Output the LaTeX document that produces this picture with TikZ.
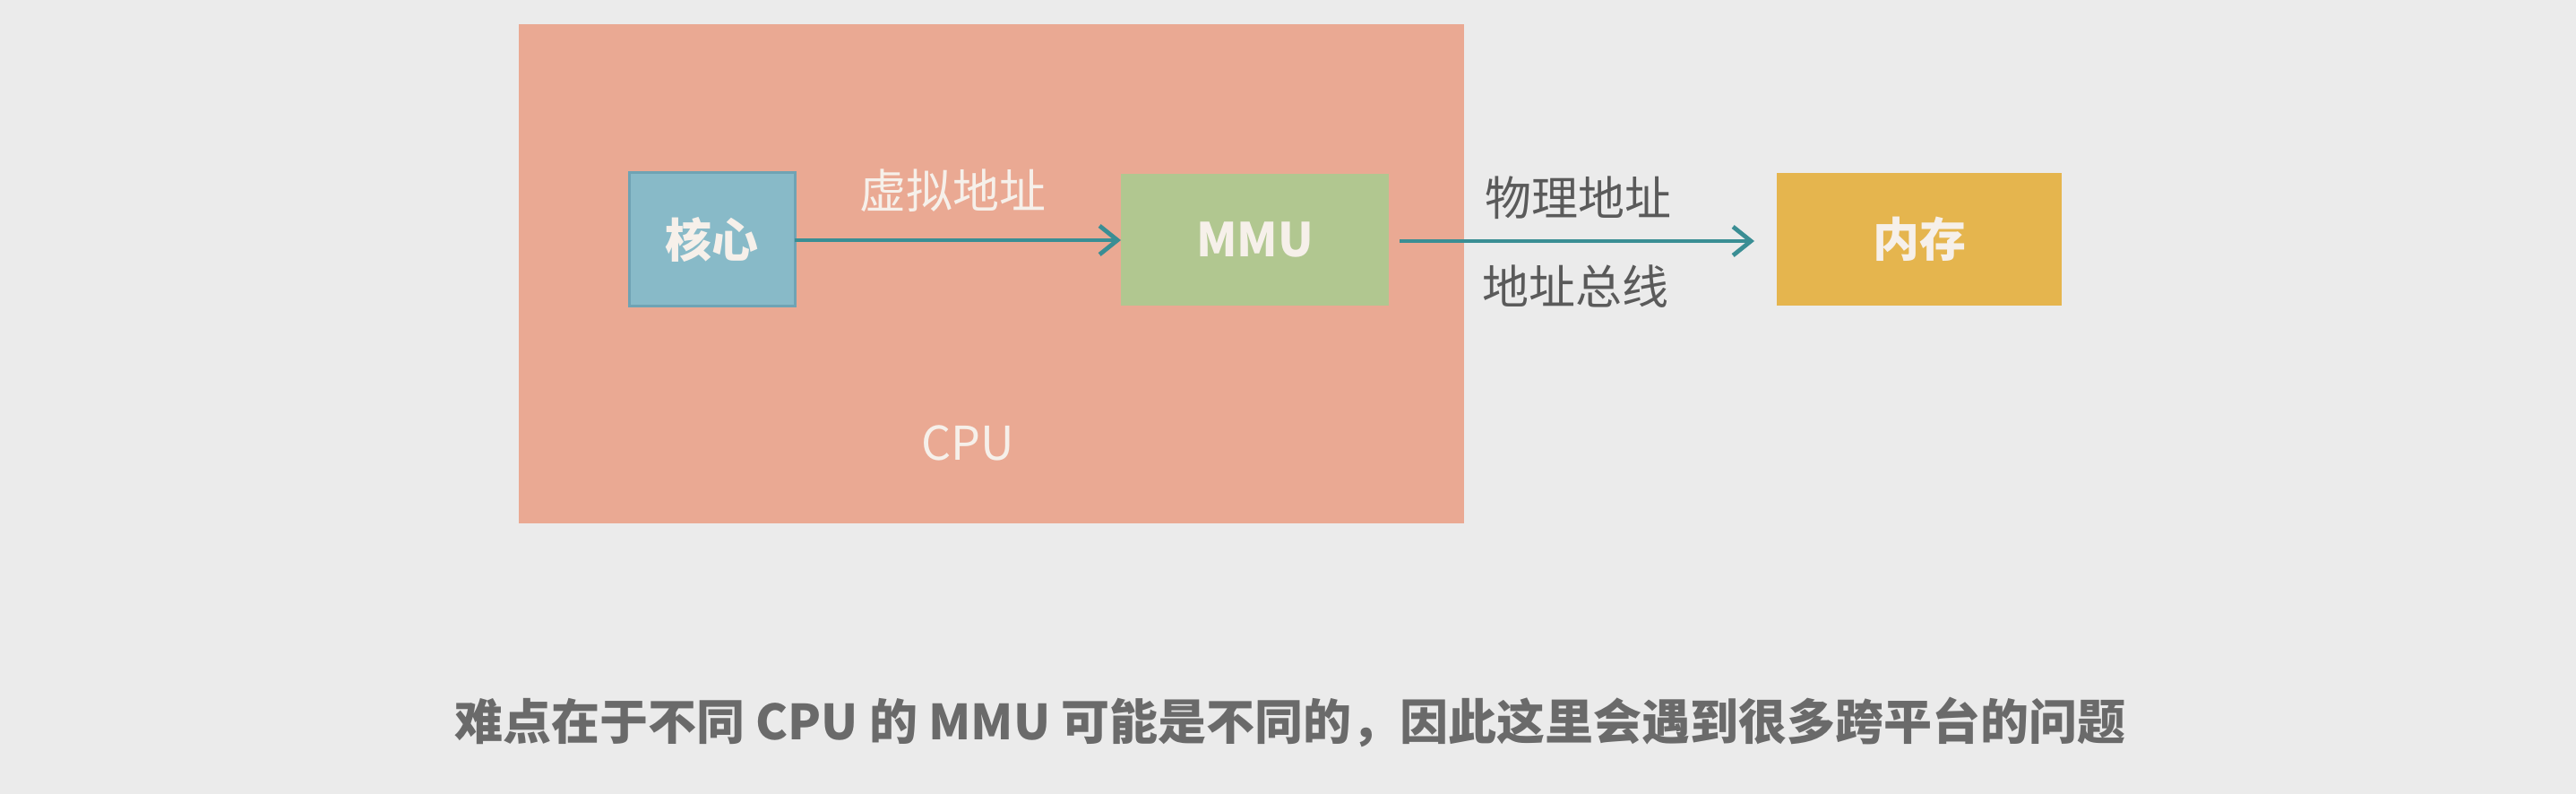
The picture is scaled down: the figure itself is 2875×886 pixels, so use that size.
\documentclass[tikz,border=0pt]{standalone}
\usepackage{fontspec}
\setmainfont{Noto Sans CJK SC}
\usetikzlibrary{arrows.meta}
\definecolor{bg}{HTML}{EBEBEB}
\definecolor{cpuc}{HTML}{EAA993}
\definecolor{corec}{HTML}{88BAC8}
\definecolor{coreb}{HTML}{6FA3B4}
\definecolor{mmuc}{HTML}{B1C790}
\definecolor{memc}{HTML}{E5B54E}
\definecolor{arrc}{HTML}{3A8E94}
\definecolor{wtxt}{HTML}{F6F0EA}
\definecolor{gtxt}{HTML}{5A5A5A}
\definecolor{btxt}{HTML}{6A6A6A}
\tikzset{
  px/.style={x=0.5pt,y=-0.5pt},
  blockbox/.style={inner sep=0pt, outer sep=0pt, font=\fontsize{26}{30}\selectfont\bfseries, text=wtxt},
  conn/.style={draw=arrc, line width=2.4pt, -{Straight Barb[length=10pt,width=16pt,line width=2.4pt]}},
  lbl/.style={font=\fontsize{26}{30}\selectfont, text=gtxt, inner sep=0pt},
}
\begin{document}
\begin{tikzpicture}[px]
\fill[bg] (0,0) rectangle (2875,886);
\useasboundingbox (0,0) rectangle (2875,886);
% CPU
\fill[cpuc] (579,27) rectangle (1634,584);
\node[font=\fontsize{26}{30}\selectfont, text=wtxt, inner sep=0pt] (cpu) at (1080,494) {CPU};
% blocks
\draw[fill=corec, draw=coreb, line width=1.5pt] (702,193) rectangle (887,342);
\node[blockbox] (core) at (794.5,267.5) {核心};
\coordinate (coreR) at (887,268);
\fill[mmuc] (1251,194) rectangle (1550,341);
\node[blockbox] (mmu) at (1400.5,267.5) {MMU};
\coordinate (mmuL) at (1251,268);
\coordinate (mmuR) at (1562,269);
\fill[memc] (1983,193) rectangle (2301,341);
\node[blockbox] (mem) at (2142,267) {内存};
\coordinate (memL) at (1958,269);
% connectors
\draw[conn] (coreR) -- (mmuL);
\draw[conn] (mmuR) -- (memL);
% labels
\node[lbl, text=wtxt] (va) at (1063,213) {虚拟地址};
\node[lbl] (pa) at (1761,221) {物理地址};
\node[lbl] (bus) at (1758,320) {地址总线};
% bottom
\node[font=\fontsize{27}{32}\selectfont\bfseries, text=btxt, inner sep=0pt] (note) at (1440,806) {难点在于不同 CPU 的 MMU 可能是不同的，因此这里会遇到很多跨平台的问题};
\end{tikzpicture}
\end{document}
